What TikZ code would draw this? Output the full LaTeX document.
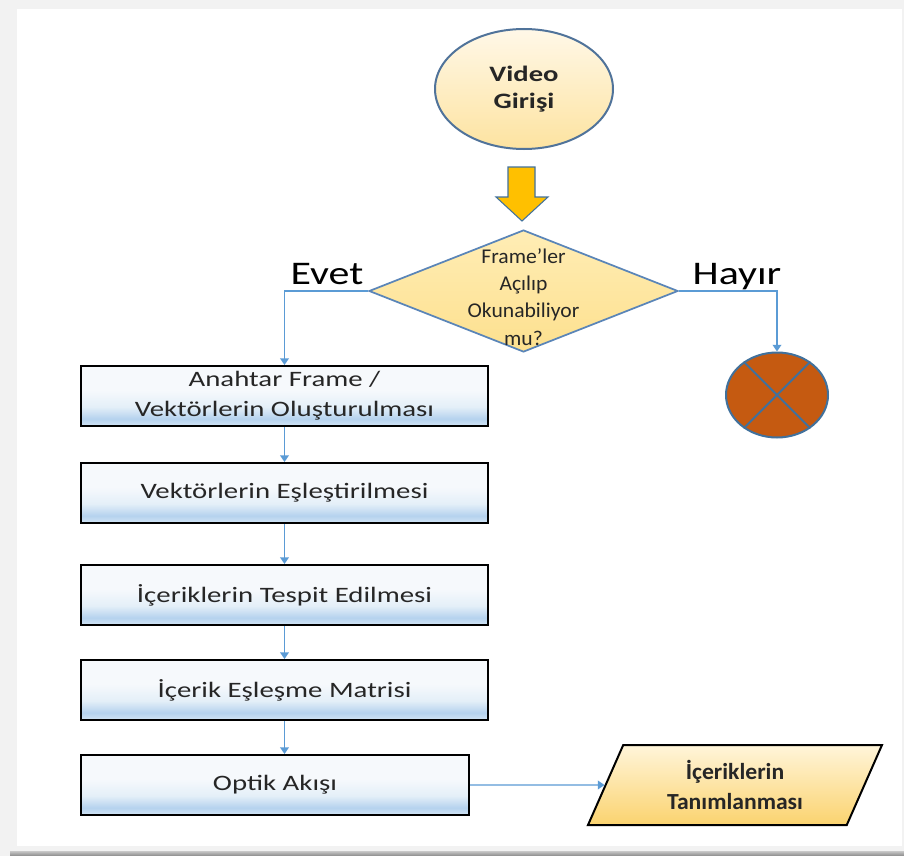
\documentclass[tikz,border=0pt]{standalone}
\usepackage{fontspec}
\setmainfont{Carlito}
\newfontfamily\boxfont{Carlito}[FakeStretch=1.31]
\newfontfamily\decfont{Carlito}[FakeStretch=1.03]
\newfontfamily\lblfont{Carlito}[FakeStretch=1.27]
\newfontfamily\ovalfont{Carlito}[FakeStretch=1.3]
\newfontfamily\iofont{Carlito}[FakeStretch=1.03]
\usetikzlibrary{shapes.geometric, arrows.meta}

\definecolor{txt}{HTML}{262626}
\definecolor{conn}{HTML}{5B9BD5}
\definecolor{edge}{HTML}{41719C}
\definecolor{ovedge}{HTML}{50739A}
\definecolor{diaedge}{HTML}{5A85B8}
\definecolor{bggrey}{HTML}{F2F2F2}
\definecolor{shadeA}{HTML}{C8C8C8}
\definecolor{shadeB}{HTML}{8A8A8A}
\definecolor{ovtop}{HTML}{FFF8E8}
\definecolor{ovbot}{HTML}{FDE3A0}
\definecolor{diatop}{HTML}{FFEDB5}
\definecolor{diabot}{HTML}{FDE08E}
\definecolor{amber}{HTML}{FFC000}
\definecolor{rust}{HTML}{C55A11}
\definecolor{iotop}{HTML}{FFF5DA}
\definecolor{iobot}{HTML}{FBD36F}
\definecolor{bxbot}{HTML}{D3E5F5}
\definecolor{bxpeak}{HTML}{B5D2EE}
\definecolor{bxmid}{HTML}{E4EFF8}
\definecolor{bxtop}{HTML}{F6F9FC}

% light top, blue band just above the lower edge
\pgfdeclareverticalshading{procshade}{100bp}{%
  color(0bp)=(bxbot); color(25bp)=(bxbot); color(31bp)=(bxpeak);
  color(41bp)=(bxmid); color(55bp)=(bxtop); color(100bp)=(bxtop)}

\begin{document}
\begin{tikzpicture}[x=0.75pt, y=-0.75pt,
  proc/.style={draw=black, line width=1.5pt, shading=procshade,
    minimum height=45pt, inner sep=0pt, align=center, text=txt,
    font=\boxfont\fontsize{16.5}{22.5}\selectfont},
  link/.style={draw=conn, line width=1.1pt, -{Triangle[width=6.5pt,length=5pt]}},
  yesno/.style={anchor=base, text=black, font=\lblfont\fontsize{24.75}{30}\selectfont}]

\useasboundingbox (0,0) rectangle (904,856);

% page frame
\fill[bggrey] (0,0) rectangle (904,856);
\fill[white] (17,9) rectangle (902,846);
\shade[top color=shadeA, bottom color=shadeB] (10,851) rectangle (904,856);

% start
\node[ellipse, draw=ovedge, line width=1.5pt, top color=ovtop, bottom color=ovbot,
  minimum width=133.5pt, minimum height=90pt, inner sep=0pt, align=center, text=txt,
  font=\ovalfont\bfseries\fontsize{16.5}{20}\selectfont] (start) at (524,89) {Video\\Girişi};

% thick down arrow
\filldraw[fill=amber, draw=edge, line width=0.8pt]
  (508,167) -- (535,167) -- (535,197) -- (548,197) -- (522,221) -- (496,197) -- (508,197) -- cycle;

% decision
\node[diamond, draw=diaedge, line width=1.3pt, top color=diatop, bottom color=diabot,
  minimum width=231.75pt, minimum height=91.5pt, inner sep=0pt] (dec) at (523.5,291) {};
\node[align=center, text=txt, font=\decfont\fontsize{15.75}{20.5}\selectfont]
  (decq) at (523.5,297) {Frame’ler\\Açılıp\\Okunabiliyor\\mu?};

\node[yesno] (yes) at (327,284) {Evet};
\node[yesno] (no) at (737,284) {Hayır};

% stop
\node[ellipse, draw=edge, line width=1.5pt, fill=rust,
  minimum width=76.5pt, minimum height=63.75pt, inner sep=0pt] (stop) at (777,395) {};
\draw[edge, line width=1.5pt] (stop.135) -- (stop.-45) (stop.45) -- (stop.-135);

% process steps
\node[proc, minimum width=305.25pt] (b1) at (284.5,396) {Anahtar Frame /\\Vektörlerin Oluşturulması};
\node[proc, minimum width=305.25pt] (b2) at (284.5,493) {Vektörlerin Eşleştirilmesi};
\node[proc, minimum width=305.25pt] (b3) at (284.5,595) {İçeriklerin Tespit Edilmesi};
\node[proc, minimum width=305.25pt] (b4) at (284.5,690) {İçerik Eşleşme Matrisi};
\node[proc, minimum width=291pt] (b5) at (275,785) {Optik Akışı};

% output
\node[trapezium, trapezium left angle=54.5, trapezium right angle=125.5,
  trapezium stretches body, draw=black, line width=1.5pt, top color=iotop, bottom color=iobot,
  minimum width=220.5pt, minimum height=60pt, inner sep=0pt, align=center, text=txt,
  font=\iofont\bfseries\fontsize{17.25}{22.5}\selectfont] (out) at (735,785) {İçeriklerin\\Tanımlanması};

% connectors
\draw[link] (dec.west) -| (b1.north);
\draw[link] (dec.east) -| (stop.north);
\draw[link] (b1.south) -- (b2.north);
\draw[link] (b2.south) -- (b3.north);
\draw[link] (b3.south) -- (b4.north);
\draw[link] (b4.south) -- (b4.south |- b5.north);
\draw[link] (b5.east) -- (out.west);
\end{tikzpicture}
\end{document}
